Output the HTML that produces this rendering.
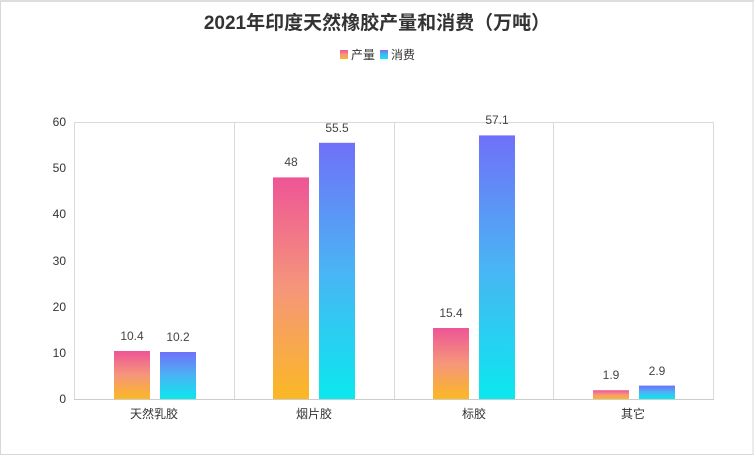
<!DOCTYPE html>
<html><head><meta charset="utf-8"><style>
body{margin:0;background:#fff;}
svg text{font-family:"Liberation Sans","Noto Sans CJK SC",sans-serif;}
</style></head><body>
<svg width="754" height="463" xmlns="http://www.w3.org/2000/svg">
<defs>
<linearGradient id="a" x1="0" y1="0" x2="0" y2="1"><stop offset="0" stop-color="#ee5596"/><stop offset="0.5" stop-color="#f5967a"/><stop offset="1" stop-color="#fbb824"/></linearGradient>
<linearGradient id="b" x1="0" y1="0" x2="0" y2="1"><stop offset="0" stop-color="#7070f8"/><stop offset="0.5" stop-color="#4ab4f4"/><stop offset="1" stop-color="#0ae8ee"/></linearGradient>
</defs>
<rect x="0.5" y="0.5" width="752.5" height="454" fill="#fff" stroke="#d8d8d8"/>
<rect x="0" y="0" width="754" height="2" fill="#ddd"/>
<text x="377" y="29" text-anchor="middle" font-size="19" font-weight="bold" fill="#333">2021年印度天然橡胶产量和消费（万吨）</text>
<rect x="340" y="50" width="8" height="9" fill="url(#a)"/>
<text x="351" y="59" font-size="12" fill="#333">产量</text>
<rect x="380" y="50" width="8" height="9" fill="url(#b)"/>
<text x="391" y="59" font-size="12" fill="#333">消费</text>
<g stroke="#d9d9d9" stroke-width="1">
<line x1="74.5" y1="122" x2="74.5" y2="399"/>
<line x1="234.5" y1="122" x2="234.5" y2="399"/>
<line x1="394.5" y1="122" x2="394.5" y2="399"/>
<line x1="553.5" y1="122" x2="553.5" y2="399"/>
<line x1="713.5" y1="122" x2="713.5" y2="399"/>
<line x1="74" y1="122.5" x2="714" y2="122.5"/>
<line x1="74" y1="399.5" x2="714" y2="399.5" stroke="#ccc"/>
</g>
<g font-size="12" fill="#333" text-anchor="end">
<text x="66" y="403">0</text><text x="66" y="357">10</text><text x="66" y="311">20</text><text x="66" y="265">30</text><text x="66" y="218">40</text><text x="66" y="172">50</text><text x="66" y="126">60</text>
</g>
<g font-size="12" fill="#333" text-anchor="middle">
<text x="154" y="418">天然乳胶</text><text x="314" y="418">烟片胶</text><text x="474" y="418">标胶</text><text x="633" y="418">其它</text>
</g>
<rect x="114" y="351" width="36" height="48" fill="url(#a)"/>
<rect x="160" y="352" width="36" height="47" fill="url(#b)"/>
<rect x="273" y="177.4" width="36" height="221.6" fill="url(#a)"/>
<rect x="319" y="142.8" width="36" height="256.2" fill="url(#b)"/>
<rect x="433" y="328" width="36" height="71" fill="url(#a)"/>
<rect x="479" y="135.4" width="36" height="263.6" fill="url(#b)"/>
<rect x="593" y="390.2" width="36" height="8.8" fill="url(#a)"/>
<rect x="639" y="385.6" width="36" height="13.4" fill="url(#b)"/>
<g font-size="12" fill="#444" text-anchor="middle">
<text x="132" y="340">10.4</text><text x="178" y="341">10.2</text>
<text x="291" y="166">48</text><text x="337" y="132">55.5</text>
<text x="451" y="317">15.4</text><text x="497" y="124">57.1</text>
<text x="611" y="379">1.9</text><text x="657" y="375">2.9</text>
</g>
</svg>
</body></html>
